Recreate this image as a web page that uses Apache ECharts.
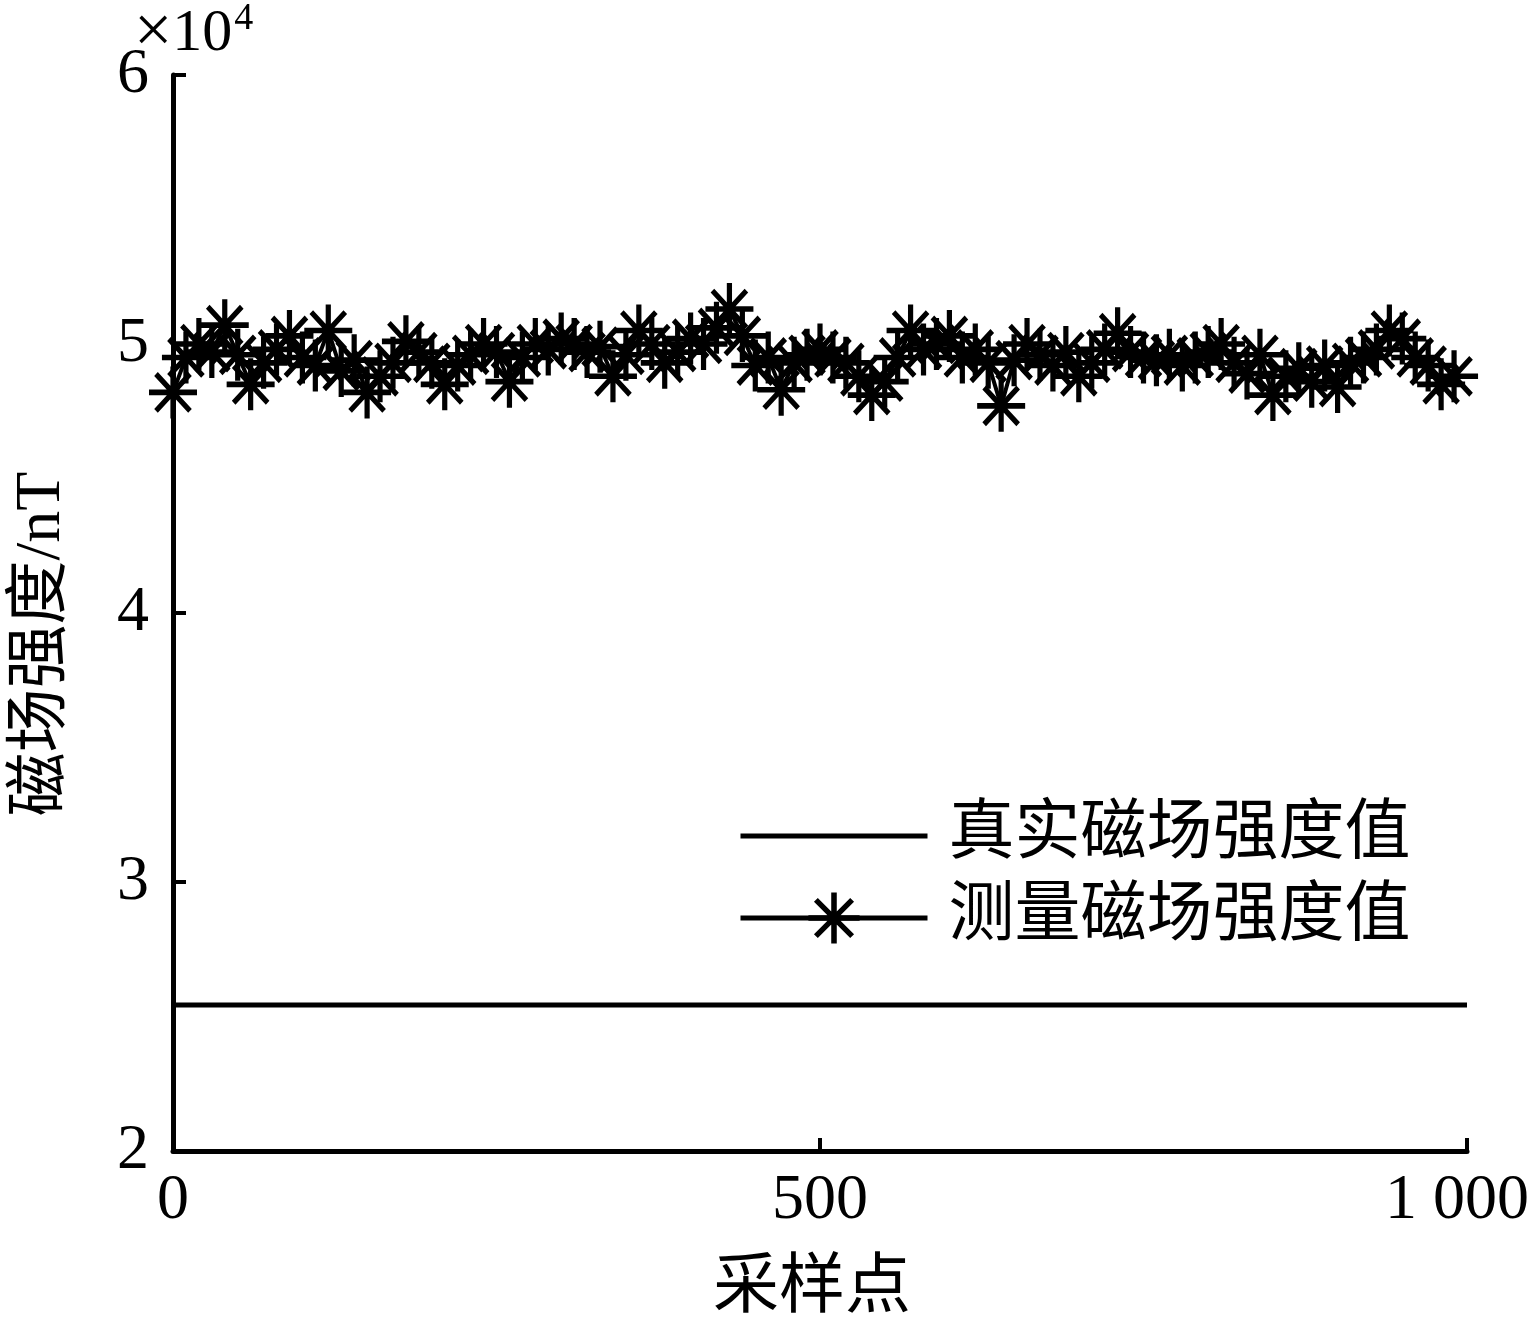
<!DOCTYPE html>
<html><head><meta charset="utf-8">
<script src="https://cdn.jsdelivr.net/npm/echarts@6/dist/echarts.min.js"></script>
<style>html,body{margin:0;padding:0;background:#fff;overflow:hidden}#c{width:1532px;height:1318px}</style>
</head><body><div id="c"></div>
<script>
// sample index of each plotted measurement
const sampleX = [0,10,20,30,40,50,60,70,80,90,100,110,120,130,140,150,160,170,180,190,200,210,220,230,240,250,260,270,280,290,300,310,320,330,340,350,360,370,380,390,400,410,420,430,440,450,460,470,480,490,500,510,520,530,540,550,560,570,580,590,600,610,620,630,640,650,660,670,680,690,700,710,720,730,740,750,760,770,780,790,800,810,820,830,840,850,860,870,880,890,900,910,920,930,940,950,960,970,980,990];
// measured magnetic field strength (nT)
const measured = [48200,49500,50000,49700,50700,49600,48500,49300,49800,50300,49500,49200,50500,49000,49400,48200,48800,49300,50100,49700,49300,48500,49200,49600,50000,49700,48600,49500,50000,49800,50200,50000,49700,49900,48800,49600,50500,50000,49300,49700,50200,50000,50600,51300,50300,49200,49500,48300,49300,49600,49800,49500,49300,48800,48100,48600,49500,50500,49800,50000,50300,49500,49800,49300,47700,49400,50000,49600,49200,49700,48800,49300,49800,50400,49700,49500,49400,49600,49200,49500,49700,50000,49300,48900,49600,48100,48800,49100,48600,49200,48400,49300,49500,49800,50500,50200,49500,49200,48500,48800];
// true magnetic field strength (nT)
const trueX = [0, 1000];
const trueY = [25430, 25430];
const xTickLabels = {0: '0', 500: '500', 1000: '{r|1 000}'};
const seriesNames = ['真实磁场强度值', '测量磁场强度值'];
const xName = '采样点';
const yName = '磁场强度/nT';

const serif = "'Liberation Serif','Times New Roman',serif";
const mixed = "'Liberation Serif','Noto Sans CJK SC',serif";
const star = 'path://M-2.6,-24 L2.6,-24 L2.6,24 L-2.6,24 Z M-24,-2.6 L24,-2.6 L24,2.6 L-24,2.6 Z M-15.2,-18.8 L18.8,15.2 L15.2,18.8 L-18.8,-15.2 Z M-18.8,15.2 L15.2,-18.8 L18.8,-15.2 L-15.2,18.8 Z';

const chart = echarts.init(document.getElementById('c'), null, {renderer: 'canvas'});
chart.setOption({
  animation: false,
  backgroundColor: '#fff',
  grid: {left: 173, right: 65, top: 75, bottom: 167, containLabel: false},
  legend: {
    orient: 'vertical', left: 733, top: 798,
    itemWidth: 187, itemHeight: 64, itemGap: 16,
    data: [{name: seriesNames[0], itemStyle: {opacity: 0}}, {name: seriesNames[1]}],
    lineStyle: {width: 5, color: '#000'},
    textStyle: {fontSize: 66, fontFamily: mixed, color: '#000', padding: [0,0,0,16], lineHeight: 64}
  },
  xAxis: {
    type: 'value', min: 0, max: 1000, interval: 500,
    axisLine: {show: true, lineStyle: {color: '#000', width: 5}},
    axisTick: {show: true, inside: true, length: 13, lineStyle: {color: '#000', width: 4}},
    axisLabel: {fontSize: 64, fontFamily: serif, color: '#000', margin: 18,
      formatter: v => xTickLabels[v],
      rich: {r: {fontSize: 64, fontFamily: serif, color: '#000', padding: [0, 20, 0, 0]}}},
    splitLine: {show: false}
  },
  yAxis: {
    type: 'value', min: 20000, max: 60000, interval: 10000,
    axisLine: {show: true, lineStyle: {color: '#000', width: 5}},
    axisTick: {show: true, inside: true, length: 13, lineStyle: {color: '#000', width: 4}},
    axisLabel: {fontSize: 64, fontFamily: serif, color: '#000', margin: 24,
      formatter: v => String(v / 10000)},
    splitLine: {show: false}
  },
  graphic: [
    {type: 'text', left: 134, top: 0, style: {
      text: '{x|×}{a|10}{b|4}',
      rich: {x: {fontSize: 68, fontFamily: serif, fill: '#000'},
             a: {fontSize: 60, fontFamily: serif, fill: '#000'},
             b: {fontSize: 38, fontFamily: serif, fill: '#000', verticalAlign: 'top', padding: [0,0,28,2]}}}},
    {type: 'text', x: 42, y: 644, rotation: Math.PI / 2, style: {
      text: yName, fontSize: 64, fontFamily: mixed, fill: '#000', align: 'center', verticalAlign: 'middle'}},
    {type: 'text', x: 812, y: 1290, style: {
      text: xName, fontSize: 66, fontFamily: mixed, fill: '#000', align: 'center', verticalAlign: 'middle'}}
  ],
  series: [
    {
      name: seriesNames[0], type: 'line', symbol: 'none',
      data: trueX.map((x, i) => [x, trueY[i]]),
      lineStyle: {color: '#000', width: 5}, itemStyle: {color: '#000'}
    },
    {
      name: seriesNames[1], type: 'line', clip: false,
      symbol: star, symbolSize: [48, 52],
      data: sampleX.map((x, i) => [x, measured[i]]),
      lineStyle: {color: '#000', width: 4},
      itemStyle: {color: '#000', borderWidth: 0}
    }
  ]
});
</script>
</body></html>
